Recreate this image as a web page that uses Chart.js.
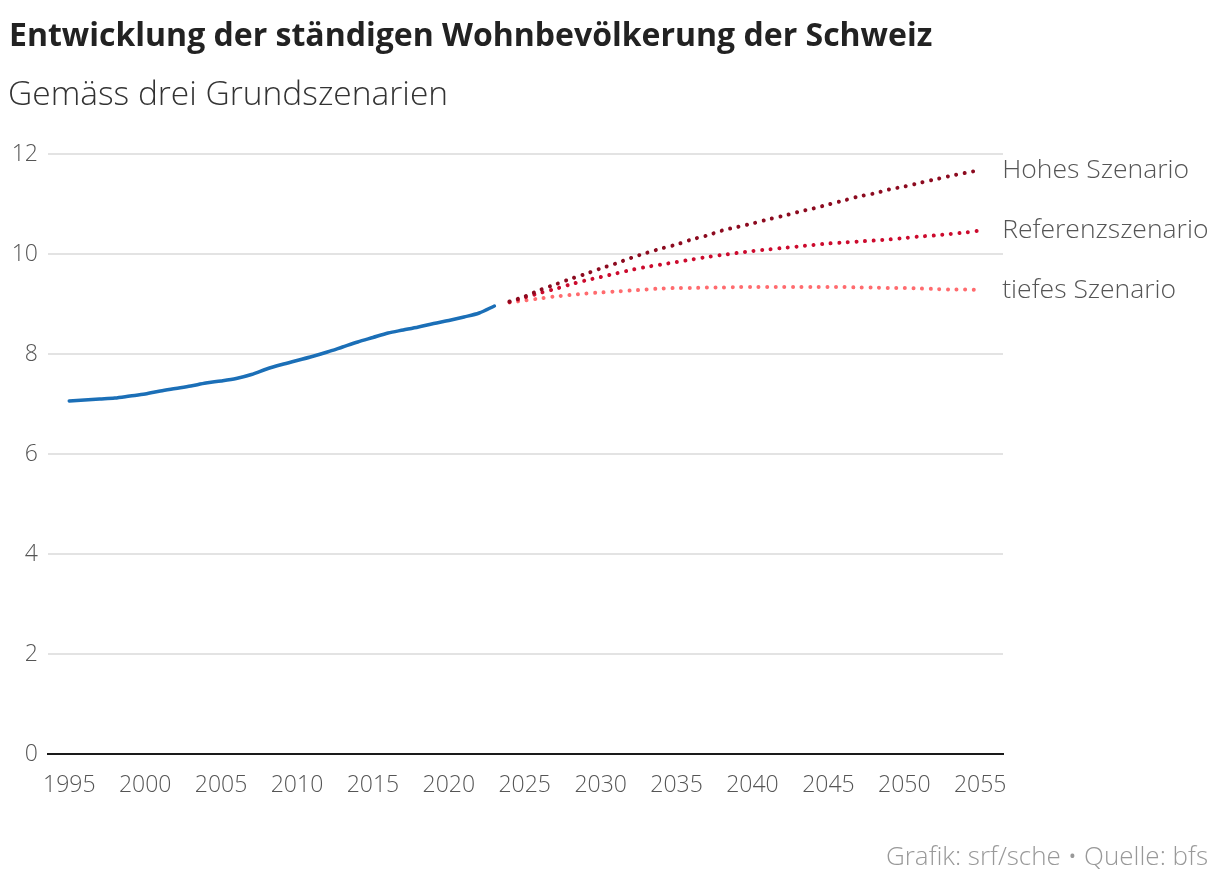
<!DOCTYPE html>
<html>
<head>
<meta charset="utf-8">
<script src="https://cdn.jsdelivr.net/npm/chart.js@4"></script>
<style>
  html, body { margin: 0; padding: 0; background: #ffffff; }
  #wrap { width: 1220px; height: 890px; position: relative; }
</style>
</head>
<body>
<div id="wrap"><canvas id="c" width="1220" height="890"></canvas></div>
<script>
// ---- Data ----
const histYears = [1995,1996,1997,1998,1999,2000,2001,2002,2003,2004,2005,2006,2007,2008,2009,2010,2011,2012,2013,2014,2015,2016,2017,2018,2019,2020,2021,2022,2023];
const histValues = [7.06,7.08,7.10,7.12,7.16,7.20,7.26,7.31,7.36,7.42,7.46,7.51,7.59,7.70,7.79,7.87,7.95,8.04,8.14,8.24,8.33,8.42,8.48,8.54,8.61,8.67,8.74,8.82,8.96];

const scenYears = [2024,2025,2026,2027,2028,2029,2030,2031,2032,2033,2034,2035,2036,2037,2038,2039,2040,2041,2042,2043,2044,2045,2046,2047,2048,2049,2050,2051,2052,2053,2054,2055];
const highValues = [9.05,9.15,9.28,9.39,9.50,9.60,9.71,9.81,9.92,10.02,10.11,10.19,10.29,10.37,10.47,10.54,10.61,10.69,10.76,10.84,10.91,10.99,11.07,11.15,11.21,11.29,11.35,11.42,11.49,11.56,11.62,11.68];
const refValues  = [9.04,9.13,9.22,9.30,9.39,9.47,9.54,9.61,9.68,9.74,9.79,9.84,9.89,9.94,9.98,10.02,10.06,10.09,10.12,10.15,10.18,10.21,10.23,10.25,10.27,10.29,10.32,10.35,10.37,10.40,10.43,10.47];
const lowValues  = [9.03,9.07,9.11,9.15,9.18,9.21,9.23,9.25,9.27,9.29,9.31,9.32,9.32,9.33,9.33,9.34,9.34,9.34,9.34,9.34,9.34,9.34,9.34,9.33,9.33,9.32,9.32,9.31,9.30,9.29,9.29,9.28];

const scenarioLabels = ["Hohes Szenario", "Referenzszenario", "tiefes Szenario"];
const xTickYears = [1995,2000,2005,2010,2015,2020,2025,2030,2035,2040,2045,2050,2055];
const yTickValues = [0,2,4,6,8,10,12];

const titleText = "Entwicklung der ständigen Wohnbevölkerung der Schweiz";
const subtitleText = "Gemäss drei Grundszenarien";
const footerText = "Grafik: srf/sche \u2022 Quelle: bfs";

const FONT = "'Open Sans', 'Noto Sans', sans-serif";

const toXY = (xs, ys) => xs.map((x, i) => ({ x: x, y: ys[i] }));

const textPlugin = {
  id: 'texts',
  afterDraw(chart) {
    const ctx = chart.ctx;
    ctx.save();
    ctx.textBaseline = 'middle';
    ctx.textAlign = 'left';
    ctx.fillStyle = '#222222';
    ctx.font = "bold 32px " + FONT;
    ctx.fillText(titleText, 9, 37);
    ctx.fillStyle = '#333333';
    ctx.font = "300 33.5px " + FONT;
    ctx.fillText(subtitleText, 8, 95);
    ctx.fillStyle = '#999999';
    ctx.font = "300 26px " + FONT;
    ctx.textAlign = 'right';
    ctx.fillText(footerText, 1208, 858);
    ctx.restore();
  },
  afterDatasetsDraw(chart) {
    const ctx = chart.ctx;
    ctx.save();
    ctx.textBaseline = 'middle';
    ctx.textAlign = 'left';
    ctx.fillStyle = '#555555';
    ctx.font = "300 26.5px " + FONT;
    for (let d = 1; d <= 3; d++) {
      const meta = chart.getDatasetMeta(d);
      const pt = meta.data[meta.data.length - 1];
      ctx.fillText(scenarioLabels[d - 1], pt.x + 22, pt.y);
    }
    ctx.restore();
  }
};

const dotted = (color) => ({
  borderColor: color,
  borderWidth: 4,
  borderDash: [0.01, 8.6],
  borderCapStyle: 'round',
  pointRadius: 0,
  fill: false,
  tension: 0.3
});

new Chart(document.getElementById('c'), {
  type: 'line',
  data: {
    datasets: [
      { label: 'Historisch', data: toXY(histYears, histValues), borderColor: '#1b6fb7', borderWidth: 3.5, pointRadius: 0, tension: 0.3, fill: false, borderCapStyle: 'round' },
      Object.assign({ label: scenarioLabels[0], data: toXY(scenYears, highValues) }, dotted('#8c0a1f')),
      Object.assign({ label: scenarioLabels[1], data: toXY(scenYears, refValues) }, dotted('#cc0a2d')),
      Object.assign({ label: scenarioLabels[2], data: toXY(scenYears, lowValues) }, dotted('#ff6b6e'))
    ]
  },
  options: {
    responsive: false,
    animation: false,
    devicePixelRatio: 1,
    layout: { padding: { top: 154, right: 217, bottom: 0, left: 0 } },
    plugins: { legend: { display: false }, tooltip: { enabled: false }, title: { display: false } },
    scales: {
      x: {
        type: 'linear',
        min: 1993.6,
        max: 2056.5,
        afterBuildTicks(scale) { scale.ticks = xTickYears.map(v => ({ value: v })); },
        afterFit(scale) { scale.height = 136; },
        grid: { display: false },
        border: { display: true, color: '#1a1a1a', width: 2 },
        ticks: { padding: 10, color: '#555555', font: { family: FONT, size: 23, weight: '300' }, maxRotation: 0, autoSkip: false, callback: v => String(v) }
      },
      y: {
        min: 0,
        max: 12,
        afterBuildTicks(scale) { scale.ticks = yTickValues.map(v => ({ value: v })); },
        afterFit(scale) { scale.width = 48; },
        grid: { color: ctx => (ctx.tick && ctx.tick.value === 0) ? 'rgba(0,0,0,0)' : '#e3e3e3', lineWidth: 2, drawTicks: false },
        border: { display: false },
        ticks: { padding: 10, color: '#555555', font: { family: FONT, size: 23, weight: '300' } }
      }
    }
  },
  plugins: [textPlugin]
});
</script>
</body>
</html>
